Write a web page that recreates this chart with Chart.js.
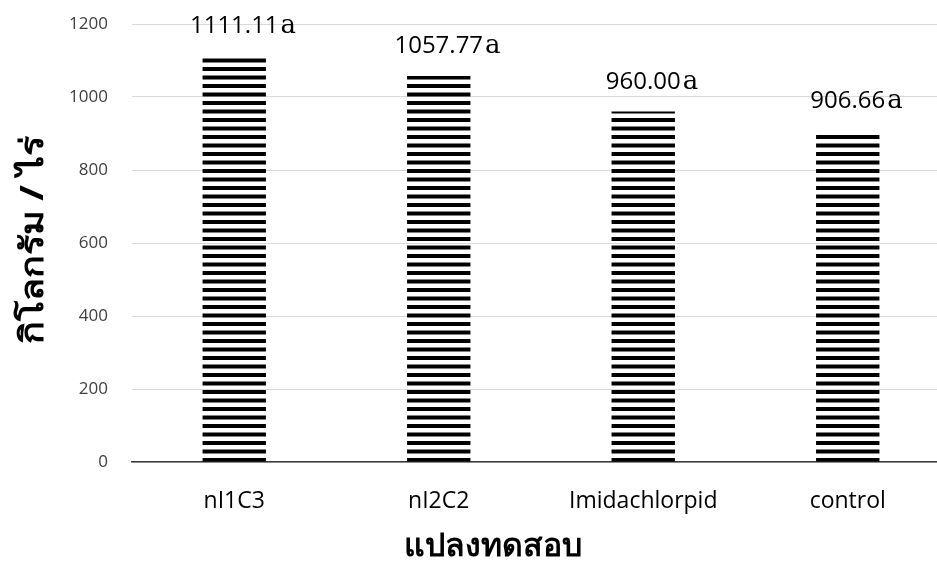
<!DOCTYPE html>
<html>
<head>
<meta charset="utf-8">
<script src="https://cdn.jsdelivr.net/npm/chart.js@4.4.0/dist/chart.umd.min.js"></script>
<style>
  html, body { margin: 0; padding: 0; background: #fff; overflow: hidden; }
  #wrap { width: 950px; height: 565px; }
</style>
</head>
<body>
<div id="wrap"><canvas id="bars"></canvas></div>
<script>
var categories = ['nI1C3', 'nI2C2', 'Imidachlorpid', 'control'];
var yields = [1111.11, 1057.77, 960.00, 906.66];
var valueText = ['1111.11', '1057.77', '960.00', '906.66'];
var letters = ['a', 'a', 'a', 'a'];
var yTicks = [0, 200, 400, 600, 800, 1000, 1200];
var xTitle = 'แปลงทดสอบ';
var yTitle = 'กิโลกรัม / ไร่';

// horizontal stripe fill
function makeStripes() {
    var c = document.createElement('canvas');
    c.width = 8;
    c.height = 17;
    var g = c.getContext('2d');
    g.fillStyle = '#000';
    g.fillRect(0, 0, 8, 4);
    g.fillRect(0, 8.5, 8, 4);
    var p = g.createPattern(c, 'repeat');
    p.setTransform(new DOMMatrix().translate(0, 458 % 17));
    return p;
}

var barLabels = {
    id: 'barLabels',
    afterDatasetsDraw: function(chart) {
        var ctx = chart.ctx;
        var meta = chart.getDatasetMeta(0);
        ctx.save();
        ctx.fillStyle = '#000';
        ctx.textBaseline = 'alphabetic';
        meta.data.forEach(function(bar, i) {
            var y = bar.y - 23;
            ctx.font = '24px "Open Sans", sans-serif';
            var w = ctx.measureText(valueText[i]).width;
            ctx.textAlign = 'center';
            ctx.fillText(valueText[i], bar.x, y);
            ctx.font = '26px "DejaVu Serif", serif';
            ctx.textAlign = 'left';
            ctx.fillText(letters[i], bar.x + w / 2 + 2, y);
        });

        // axis titles
        ctx.font = 'bold 32px "Noto Sans", sans-serif';
        ctx.textAlign = 'center';
        ctx.textBaseline = 'middle';
        ctx.fillText(xTitle, 493, 547);
        ctx.translate(34, 240);
        ctx.rotate(-Math.PI / 2);
        ctx.scale(1.18, 1);
        ctx.fillText(yTitle, 0, 0);
        ctx.restore();
    }
};

var ctx = document.getElementById('bars').getContext('2d');
var chart = new Chart(ctx, {
    type: 'bar',
    data: {
        labels: categories,
        datasets: [{
            data: yields,
            backgroundColor: makeStripes(),
            borderWidth: 0,
            barPercentage: 0.31,
            categoryPercentage: 1
        }]
    },
    options: {
        responsive: true,
        maintainAspectRatio: false,
        animation: false,
        layout: { padding: { top: 24, right: 0, bottom: 0, left: 0 } },
        plugins: {
            legend: { display: false },
            tooltip: { enabled: false }
        },
        scales: {
            x: {
                grid: { display: false },
                border: { display: true, color: '#3a3a3a', width: 1.5 },
                ticks: { color: '#000', font: { family: 'Open Sans', size: 23 }, padding: 18 },
                afterFit: function(s) { s.height = 103; s.paddingLeft = 0; s.paddingRight = 0; }
            },
            y: {
                min: 0,
                max: 1200,
                afterBuildTicks: function(s) { s.ticks = yTicks.map(function(v) { return { value: v }; }); },
                grid: { color: '#d9d9d9', lineWidth: 1, drawTicks: false },
                border: { display: false },
                ticks: {
                    color: '#404040',
                    font: { family: 'Open Sans', size: 17 },
                    padding: 24,
                    callback: function(v) { return String(v); }
                },
                afterFit: function(s) { s.width = 132; s.paddingTop = 0; s.paddingBottom = 0; }
            }
        }
    },
    plugins: [barLabels]
});
</script>
</body>
</html>
